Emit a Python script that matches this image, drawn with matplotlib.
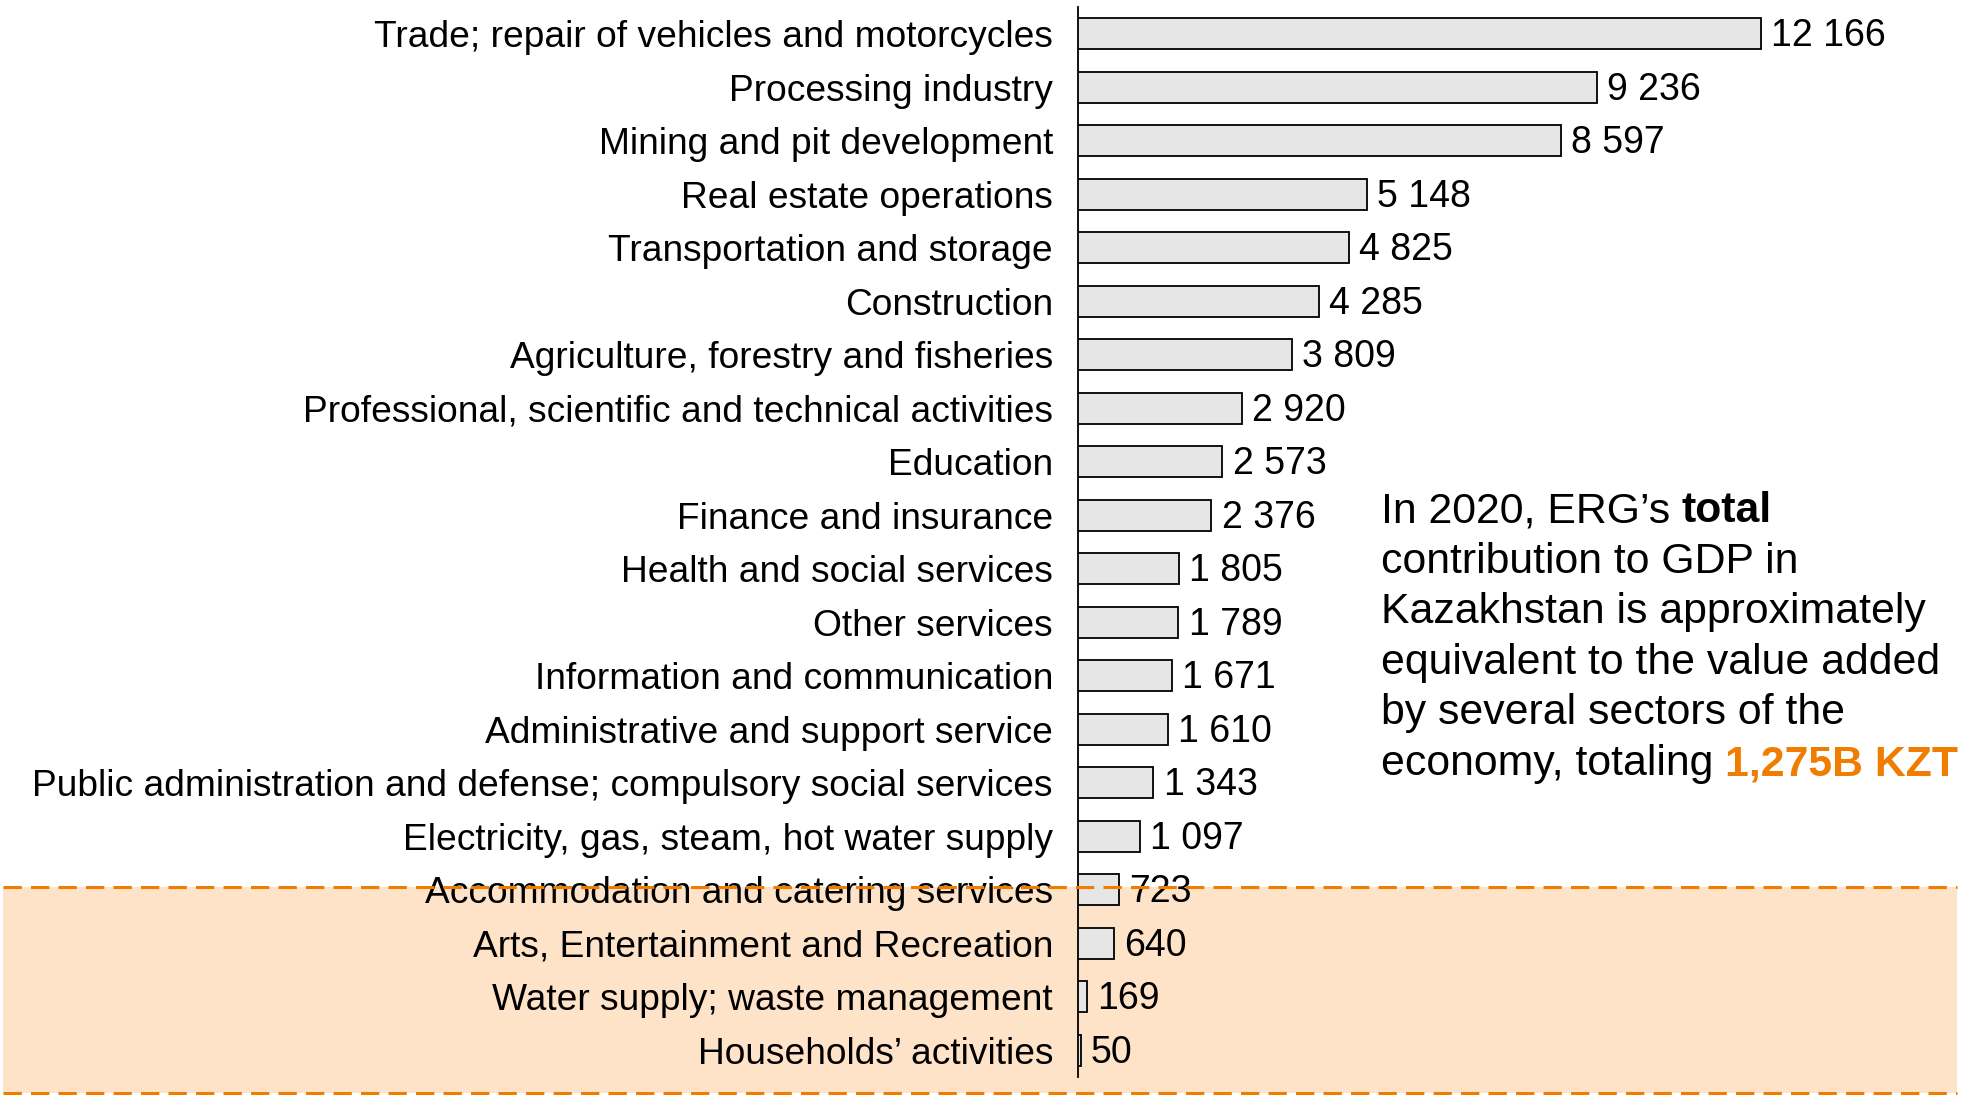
import numpy as np
import matplotlib.pyplot as plt
from matplotlib.patches import Rectangle
from matplotlib.transforms import blended_transform_factory

# value added by sector, KZT billion (2020)
sectors = [
    "Trade; repair of vehicles and motorcycles",
    "Processing industry",
    "Mining and pit development",
    "Real estate operations",
    "Transportation and storage",
    "Construction",
    "Agriculture, forestry and fisheries",
    "Professional, scientific and technical activities",
    "Education",
    "Finance and insurance",
    "Health and social services",
    "Other services",
    "Information and communication",
    "Administrative and support service",
    "Public administration and defense; compulsory social services",
    "Electricity, gas, steam, hot water supply",
    "Accommodation and catering services",
    "Arts, Entertainment and Recreation",
    "Water supply; waste management",
    "Households\u2019 activities",
]
values = [12166, 9236, 8597, 5148, 4825, 4285, 3809, 2920, 2573, 2376,
          1805, 1789, 1671, 1610, 1343, 1097, 723, 640, 169, 50]
highlight_from = "Accommodation and catering services"

orange = "#F07D00"
peach = "#FEE3C9"

plt.rcParams['font.family'] = ['Liberation Sans', 'DejaVu Sans']

W, H = 1970, 1095
fig = plt.figure(figsize=(W / 100, H / 100), dpi=100)
ax = fig.add_axes([1078 / W, 1 - 1077 / H, (1960 - 1078) / W, 1070 / H])

y = np.arange(len(sectors))
ax.barh(y, values, height=0.58, color="#E6E6E6", edgecolor="black",
        linewidth=1.3, zorder=3)
for yi, v in zip(y, values):
    ax.text(v + 180, yi + 0.05, f"{v:,}".replace(",", " "), va="center",
            ha="left", fontsize=27, zorder=4)

ax.set_xlim(0, 15710)
ax.set_ylim(len(sectors) - 0.5, -0.5)
ax.set_yticks(y)
ax.set_yticklabels(sectors, fontsize=26.7)
ax.tick_params(axis="y", length=0, pad=18)
ax.set_xticks([])
for s in ["top", "right", "bottom"]:
    ax.spines[s].set_visible(False)
ax.spines["left"].set_linewidth(1.3)
ax.patch.set_alpha(0)

# shaded band for the smallest sectors (behind the axes)
k = sectors.index(highlight_from)
tr = blended_transform_factory(fig.transFigure, ax.transData)
band_top = k - 0.05
band_bot = len(sectors) - 0.5 + (1093 - 1077) / 53.5
fig.patches.append(Rectangle((3 / W, band_top), (1957 - 3) / W,
                             band_bot - band_top, transform=tr,
                             facecolor=peach, edgecolor="none", zorder=-1))
for yy in (band_top, band_bot):
    ln = plt.Line2D([3 / W, 1957 / W], [yy, yy], transform=tr, color=orange,
                    lw=2.2, linestyle=(0, (6, 3)), zorder=5)
    fig.lines.append(ln)

# annotation
x0 = 1381 / W
base = 522
step = 50.6
fs = 30.8
lines = ["In 2020, ERG\u2019s ", "contribution to GDP in",
         "Kazakhstan is approximately", "equivalent to the value added",
         "by several sectors of the", "economy, totaling "]
txts = []
for i, t in enumerate(lines):
    txts.append(fig.text(x0, 1 - (base + i * step) / H, t, fontsize=fs,
                         va="baseline", ha="left"))
ax.annotate("total", xy=(1, 0), xycoords=txts[0], va="bottom", ha="left",
            fontsize=fs, fontweight="bold", annotation_clip=False)
ax.annotate("1,275B KZT", xy=(1, 0), xycoords=txts[-1], va="bottom",
            ha="left", fontsize=fs, fontweight="bold", color=orange,
            annotation_clip=False)

fig.savefig("out.png", dpi=100)
